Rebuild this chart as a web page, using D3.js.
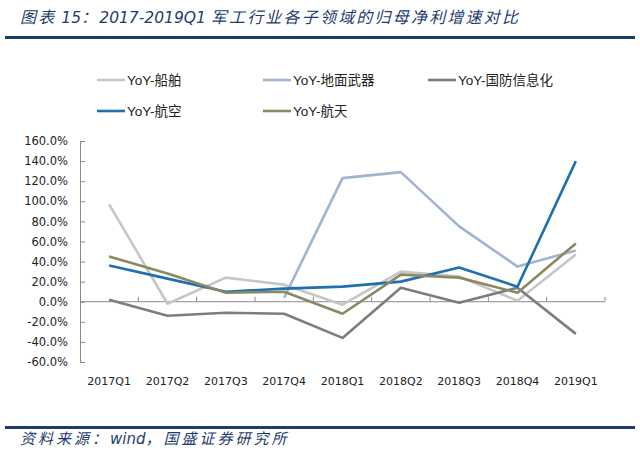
<!DOCTYPE html>
<html>
<head>
<meta charset="utf-8">
<script src="https://cdn.jsdelivr.net/npm/d3@7"></script>
<style>
  body { margin: 0; background: #fff; }
  svg { display: block; }
</style>
</head>
<body>
<div id="chart"></div>
<script>
const quarters = ["2017Q1", "2017Q2", "2017Q3", "2017Q4", "2018Q1", "2018Q2", "2018Q3", "2018Q4", "2019Q1"];
const yTicks = [-60, -40, -20, 0, 20, 40, 60, 80, 100, 120, 140, 160];

const chuanbo = [97, -2, 24, 17, -3, 30, 25, 1, 47];
const dimian = [null, null, null, 4, 123, 129, 75, 35, 51];
const guofang = [2, -14, -11, -12, -36, 14, -1, 14, -32];
const hangkong = [36, 23, 10, 13, 15, 20, 34, 15, 140];
const hangtian = [45, 28, 9, 10, -12, 27, 24, 9, 58];

const seriesNames = ["YoY-船舶", "YoY-地面武器", "YoY-国防信息化", "YoY-航空", "YoY-航天"];
const seriesValues = [chuanbo, dimian, guofang, hangkong, hangtian];
const seriesColors = ["#c6c6c6", "#a2b4cf", "#7d7d7d", "#1f70ae", "#8b8962"];

const titleText = "图表 15：2017-2019Q1 军工行业各子领域的归母净利增速对比";
const sourceText = "资料来源：wind，国盛证券研究所";

const W = 640, H = 457;
const navy = "#1f3c6e";
const cjk = "'Liberation Sans', 'Noto Sans CJK SC', sans-serif";

const svg = d3.select("#chart").append("svg").attr("width", W).attr("height", H);

// split a string into latin / cjk runs so each can get its own size
function runs(str) {
  const out = [];
  for (const ch of str) {
    const isCjk = /[\u3000-\u9fff\uff00-\uffef]/.test(ch);
    if (out.length && out[out.length - 1].cjk === isCjk) out[out.length - 1].t += ch;
    else out.push({ t: ch, cjk: isCjk });
  }
  return out;
}

function italicText(str, xPos, yPos, latinSize, cjkSize, spacing) {
  const t = svg.append("text")
    .attr("x", xPos).attr("y", yPos)
    .attr("fill", navy)
    .style("font-family", "'DejaVu Sans', 'Noto Sans CJK SC', sans-serif")
    .style("font-style", "italic");
  t.selectAll("tspan")
    .data(runs(str))
    .enter().append("tspan")
    .style("font-size", d => (d.cjk ? cjkSize : latinSize) + "px")
    .style("letter-spacing", d => (d.cjk ? spacing : 0) + "px")
    .text(d => d.t);
}

// title + rules
italicText(titleText, 20, 23, 15.5, 16, 2.2);

svg.append("rect").attr("x", 5).attr("y", 36).attr("width", 630).attr("height", 3).attr("fill", navy);
svg.append("rect").attr("x", 5).attr("y", 426).attr("width", 630).attr("height", 3).attr("fill", navy);

italicText(sourceText, 20, 444, 15, 15, 3);

// scales
const x = d3.scaleBand().domain(quarters).range([80, 605]);
const y = d3.scaleLinear().domain([-60, 160]).range([362, 141]);

const axisColor = "#8a8a8a";

// y axis
const yAxis = svg.append("g")
  .attr("transform", "translate(80,0)")
  .call(d3.axisRight(y).tickValues(yTicks).tickSize(5).tickFormat(d => d.toFixed(1) + "%"));
yAxis.select(".domain").attr("stroke", axisColor);
yAxis.selectAll(".tick line").attr("stroke", axisColor);
yAxis.selectAll(".tick text")
  .attr("x", -12)
  .attr("text-anchor", "end")
  .attr("fill", "#222")
  .style("font-family", "'DejaVu Sans', sans-serif")
  .style("font-size", "11.5px");

// x axis at zero line, ticks pointing up
const xAxisLine = svg.append("g").attr("transform", `translate(0,${y(0)})`);
xAxisLine.append("line")
  .attr("x1", 80).attr("x2", 605)
  .attr("stroke", axisColor);
xAxisLine.selectAll(".xtick")
  .data(quarters.slice(1).map(q => x(q)).concat([605]))
  .enter().append("line")
  .attr("x1", d => d).attr("x2", d => d)
  .attr("y1", 0).attr("y2", -5)
  .attr("stroke", axisColor);

// x labels at bottom
svg.append("g").selectAll("text")
  .data(quarters)
  .enter().append("text")
  .attr("x", d => x(d) + x.bandwidth() / 2)
  .attr("y", 385)
  .attr("text-anchor", "middle")
  .attr("fill", "#222")
  .style("font-family", "'DejaVu Sans', sans-serif")
  .style("font-size", "11px")
  .text(d => d);

// lines
const line = d3.line()
  .defined(d => d != null)
  .x((d, i) => x(quarters[i]) + x.bandwidth() / 2)
  .y(d => y(d));

svg.append("g").selectAll("path")
  .data(seriesValues)
  .enter().append("path")
  .attr("d", d => line(d))
  .attr("fill", "none")
  .attr("stroke", (d, i) => seriesColors[i])
  .attr("stroke-width", 2.6)
  .attr("stroke-linejoin", "round");

// legend
const legendPos = [[97, 80], [263, 80], [428, 80], [97, 111], [263, 111]];
const legend = svg.append("g").selectAll("g")
  .data(seriesNames)
  .enter().append("g")
  .attr("transform", (d, i) => `translate(${legendPos[i][0]},${legendPos[i][1]})`);
legend.append("line")
  .attr("x1", 0).attr("x2", 28)
  .attr("stroke", (d, i) => seriesColors[i])
  .attr("stroke-width", 2.6);
legend.append("text")
  .attr("x", 30).attr("y", 5)
  .attr("fill", "#222")
  .style("font-family", cjk)
  .style("font-size", "13.5px")
  .text(d => d);
</script>
</body>
</html>
